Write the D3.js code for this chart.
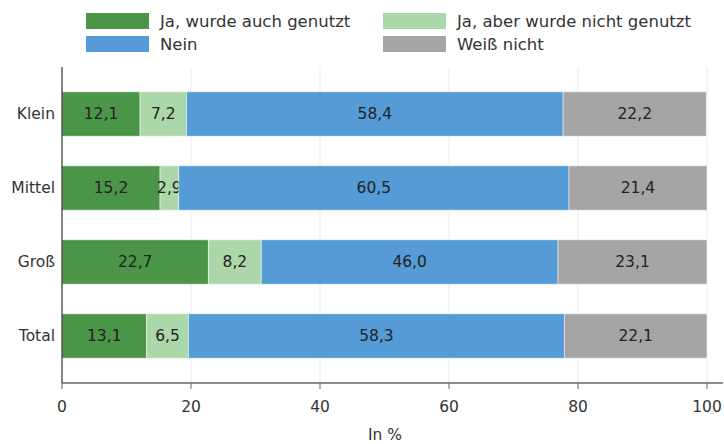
<!DOCTYPE html>
<html><head><meta charset="utf-8">
<script src="https://cdn.jsdelivr.net/npm/d3@7"></script>
<style>body{margin:0;background:#fff}svg{display:block}text{font-family:"DejaVu Sans",sans-serif}</style>
</head><body><svg id="c" width="724" height="444"></svg>
<script>
const categories = ["Klein","Mittel","Groß","Total"];
const seriesNames = ["Ja, wurde auch genutzt","Ja, aber wurde nicht genutzt","Nein","Weiß nicht"];
const colors = ["#4a9548","#acd7a9","#559bd6","#a5a5a5"];
const jaGenutzt = [12.1,15.2,22.7,13.1];
const jaNicht = [7.2,2.9,8.2,6.5];
const nein = [58.4,60.5,46.0,58.3];
const weissNicht = [22.2,21.4,23.1,22.1];
const xTicks = [0,20,40,60,80,100];
const xTitle = "In %";

const series = [jaGenutzt, jaNicht, nein, weissNicht];
const rows = categories.map((c,i)=>{const o={cat:c}; seriesNames.forEach((s,j)=>o[s]=series[j][i]); return o;});
const stacked = d3.stack().keys(seriesNames)(rows);

const svg = d3.select("#c");
const x = d3.scaleLinear().domain([0,100]).range([62,707]);
const y = d3.scaleBand().domain(categories).range([77,373]).paddingInner(0.4).paddingOuter(0.2);
const fmt = v => d3.format(".1f")(v).replace(".",",");
const fs = 15.5;

// gridlines
svg.append("g").selectAll("line").data(xTicks.filter(t=>t>0)).join("line")
  .attr("x1",d=>x(d)).attr("x2",d=>x(d)).attr("y1",67).attr("y2",383)
  .attr("stroke","#ebebeb").attr("stroke-width",1);

// bars
const g = svg.append("g");
stacked.forEach((s,j)=>{
  g.append("g").selectAll("rect").data(s).join("rect")
    .attr("x",d=>x(d[0])).attr("width",d=>x(d[1])-x(d[0]))
    .attr("y",d=>y(d.data.cat)).attr("height",y.bandwidth())
    .attr("fill",colors[j]).attr("stroke","rgba(255,255,255,0.5)").attr("stroke-width",1);
  g.append("g").selectAll("text").data(s).join("text")
    .attr("x",d=>(x(d[0])+x(d[1]))/2).attr("y",d=>y(d.data.cat)+y.bandwidth()/2)
    .attr("dy","0.35em").attr("text-anchor","middle").attr("font-size",fs).attr("fill","#222")
    .text(d=>fmt(d[1]-d[0]));
});

// x axis
const xa = svg.append("g").attr("transform","translate(0,383)");
xa.append("line").attr("x1",62).attr("x2",723).attr("stroke","#666").attr("stroke-width",1.5);
xa.selectAll("line.t").data(xTicks).join("line").attr("class","t")
  .attr("x1",d=>x(d)).attr("x2",d=>x(d)).attr("y1",0).attr("y2",6).attr("stroke","#666");
xa.selectAll("text").data(xTicks).join("text")
  .attr("x",d=>x(d)).attr("y",29).attr("text-anchor","middle").attr("font-size",fs).attr("fill","#333")
  .text(d=>d);
svg.append("text").attr("x",385).attr("y",440).attr("text-anchor","middle").attr("font-size",fs).attr("fill","#333").text(xTitle);

// y axis
svg.append("line").attr("x1",62).attr("x2",62).attr("y1",67).attr("y2",383).attr("stroke","#333").attr("stroke-width",1.2);
svg.append("g").selectAll("text").data(categories).join("text")
  .attr("x",55).attr("y",d=>y(d)+y.bandwidth()/2).attr("dy","0.35em").attr("text-anchor","end")
  .attr("font-size",fs).attr("fill","#333").text(d=>d);

// legend
const legPos = [[86,13],[383,13],[86,36],[383,36]];
const lg = svg.append("g");
seriesNames.forEach((s,j)=>{
  const [lx,ly] = legPos[j];
  lg.append("rect").attr("x",lx).attr("y",ly).attr("width",63).attr("height",16).attr("fill",colors[j]);
  lg.append("text").attr("x",lx+74).attr("y",ly+8).attr("dy","0.35em").attr("font-size",16.5).attr("fill","#333").text(s);
});
</script></body></html>
